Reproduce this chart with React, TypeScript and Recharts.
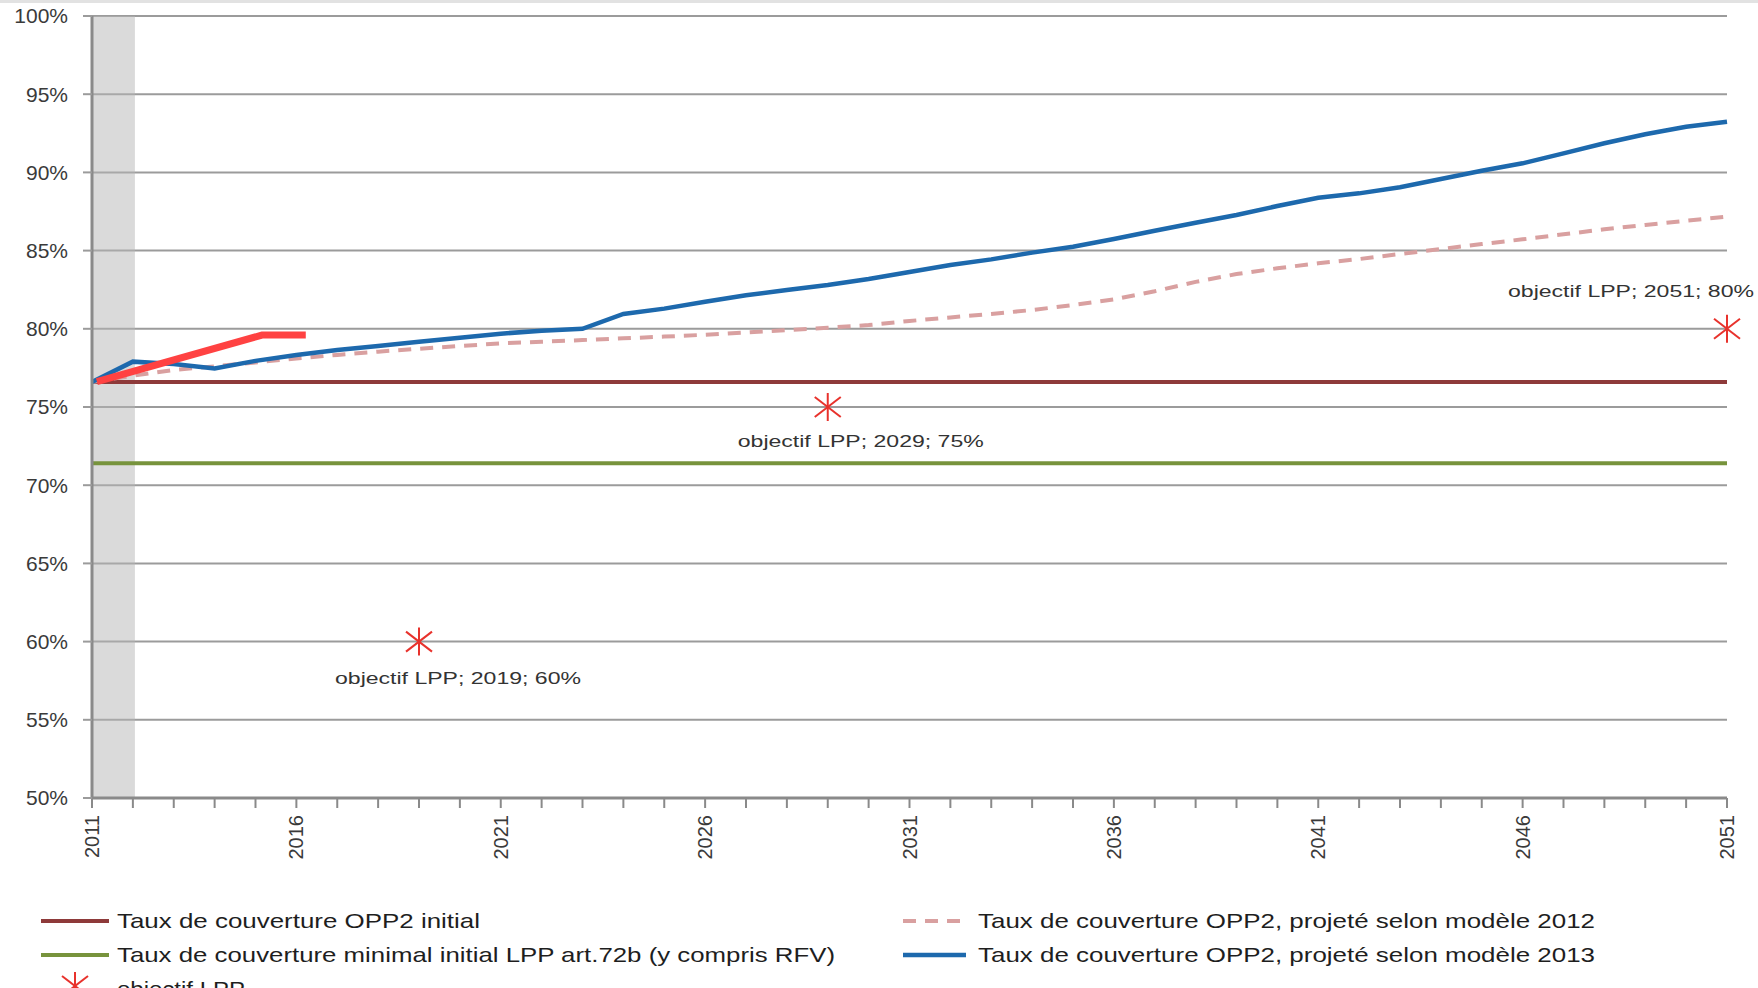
import React from 'react';
import { ComposedChart, Line, Scatter, XAxis, YAxis, CartesianGrid, ReferenceArea } from 'recharts';

const years = [2011, 2012, 2013, 2014, 2015, 2016, 2017, 2018, 2019, 2020, 2021, 2022, 2023, 2024, 2025, 2026, 2027, 2028, 2029, 2030, 2031, 2032, 2033, 2034, 2035, 2036, 2037, 2038, 2039, 2040, 2041, 2042, 2043, 2044, 2045, 2046, 2047, 2048, 2049, 2050, 2051];

const proj2013 = [76.6, 77.9, 77.75, 77.47, 77.95, 78.32, 78.64, 78.9, 79.17, 79.43, 79.69, 79.88, 80.0, 80.95, 81.29, 81.73, 82.14, 82.48, 82.8, 83.18, 83.63, 84.08, 84.44, 84.87, 85.25, 85.74, 86.27, 86.78, 87.28, 87.85, 88.38, 88.66, 89.05, 89.58, 90.11, 90.58, 91.22, 91.86, 92.44, 92.92, 93.24];

const proj2012 = [76.6, 77.0, 77.37, 77.6, 77.85, 78.1, 78.33, 78.54, 78.72, 78.9, 79.07, 79.17, 79.28, 79.39, 79.5, 79.62, 79.77, 79.92, 80.07, 80.24, 80.5, 80.73, 80.95, 81.2, 81.52, 81.88, 82.4, 83.0, 83.5, 83.87, 84.19, 84.46, 84.78, 85.1, 85.42, 85.72, 86.04, 86.36, 86.64, 86.91, 87.17];

const initialOPP2 = 76.6;
const minimalLPP = 71.4;

const objectifYears = [2019, 2029, 2051];
const objectifValues = [60, 75, 80];

const redMarkYears = [2011.12, 2015.16, 2016.23];
const redMarkValues = [76.62, 79.6, 79.6];

const shadedYears = [2011, 2012.05];

const yTicks = [50, 55, 60, 65, 70, 75, 80, 85, 90, 95, 100];
const xLabelYears = [2011, 2016, 2021, 2026, 2031, 2036, 2041, 2046, 2051];

const legendLabels = [
  'Taux de couverture OPP2 initial',
  'Taux de couverture minimal initial LPP art.72b (y compris RFV)',
  'objectif LPP',
  'Taux de couverture OPP2, projeté selon modèle 2012',
  'Taux de couverture OPP2, projeté selon modèle 2013',
];

const chartData = years.map((year, i) => ({
  year,
  proj2013: proj2013[i],
  proj2012: proj2012[i],
  initial: initialOPP2,
  minimal: minimalLPP,
}));

const objectifData = objectifYears.map((year, i) => ({ year, value: objectifValues[i] }));
const redMarkData = redMarkYears.map((year, i) => ({ year, mark: redMarkValues[i] }));

const FONT = '"Liberation Sans", Arial, sans-serif';
const C_BROWN = '#8e3a3a';
const C_GREEN = '#77933c';
const C_PINK = '#d9a0a0';
const C_BLUE = '#1d69ad';
const C_STAR = '#e8322c';
const C_RED = '#ff4242';

// label placement relative to the marker (style, not data)
const labelOffsets: Record<number, { dx: number; dy: number }> = {
  2019: { dx: 39, dy: 37 },
  2029: { dx: 33, dy: 34 },
  2051: { dx: -96, dy: -37 },
};

const starLines = (cx: number, cy: number, color: string, key?: string) => (
  <g key={key}>
    <line x1={cx} y1={cy - 14} x2={cx} y2={cy + 14} stroke={color} strokeWidth={2} />
    <line x1={cx - 13} y1={cy - 10} x2={cx + 13} y2={cy + 10} stroke={color} strokeWidth={2} />
    <line x1={cx - 13} y1={cy + 10} x2={cx + 13} y2={cy - 10} stroke={color} strokeWidth={2} />
  </g>
);

const StarShape = (props: any) => {
  const { cx, cy, payload } = props;
  if (cx == null || cy == null) return <g />;
  const off = labelOffsets[payload.year] || { dx: 0, dy: 30 };
  return (
    <g>
      {starLines(cx, cy, C_STAR)}
      <text
        x={cx + off.dx}
        y={cy + off.dy}
        textAnchor="middle"
        dominantBaseline="central"
        fontSize={16}
        fontFamily={FONT}
        fill="#333"
        textLength={246}
        lengthAdjust="spacingAndGlyphs"
      >
        {`objectif LPP; ${payload.year}; ${payload.value}%`}
      </text>
    </g>
  );
};

const XTick = (props: any) => {
  const { x, y, payload } = props;
  if (!xLabelYears.includes(payload.value)) return <g />;
  return (
    <text
      x={x}
      y={y}
      transform={`rotate(-90 ${x} ${y})`}
      textAnchor="end"
      dominantBaseline="central"
      fontSize={20}
      fontFamily={FONT}
      fill="#3a3a3a"
    >
      {payload.value}
    </text>
  );
};

const Legend = () => {
  const textProps = {
    fontSize: 21,
    fontFamily: FONT,
    fill: '#1e1e1e',
    lengthAdjust: 'spacingAndGlyphs' as const,
  };
  return (
    <svg width={1758} height={988} style={{ position: 'absolute', left: 0, top: 0, pointerEvents: 'none' }}>
      <line x1={41} y1={921} x2={109} y2={921} stroke={C_BROWN} strokeWidth={4} />
      <text x={117} y={928} textLength={363} {...textProps}>{legendLabels[0]}</text>
      <line x1={41} y1={955} x2={109} y2={955} stroke={C_GREEN} strokeWidth={4} />
      <text x={117} y={962} textLength={718} {...textProps}>{legendLabels[1]}</text>
      {starLines(75, 986, C_STAR)}
      <text x={117} y={996} textLength={128} {...textProps}>{legendLabels[2]}</text>
      <line x1={903} y1={921} x2={966} y2={921} stroke={C_PINK} strokeWidth={4} strokeDasharray="13 9" />
      <text x={978} y={928} textLength={617} {...textProps}>{legendLabels[3]}</text>
      <line x1={903} y1={955} x2={966} y2={955} stroke={C_BLUE} strokeWidth={4.5} />
      <text x={978} y={962} textLength={617} {...textProps}>{legendLabels[4]}</text>
    </svg>
  );
};

export default function App() {
  return (
    <div style={{ position: 'absolute', left: 0, top: 0, width: 1758, height: 988, background: '#fff', overflow: 'hidden', fontFamily: FONT }}>
      <div style={{ position: 'absolute', left: 0, top: 0, width: 1758, height: 3, background: '#e2e2e2' }} />
      <ComposedChart
        width={1758}
        height={988}
        data={chartData}
        margin={{ top: 16, right: 31, bottom: 130, left: 0 }}
      >
        <ReferenceArea
          x1={shadedYears[0]}
          x2={shadedYears[1]}
          y1={50}
          y2={100}
          fill="#b5b5b5"
          fillOpacity={0.5}
          stroke="none"
          ifOverflow="visible"
        />
        <CartesianGrid vertical={false} stroke="#9b9b9b" strokeWidth={2} />
        <XAxis
          dataKey="year"
          type="number"
          domain={[2011, 2051]}
          ticks={years}
          interval={0}
          height={60}
          tickSize={10}
          tickMargin={7}
          tick={<XTick />}
          axisLine={{ stroke: '#8a8a8a', strokeWidth: 3 }}
          tickLine={{ stroke: '#8a8a8a', strokeWidth: 2 }}
          allowDecimals
        />
        <YAxis
          type="number"
          domain={[50, 100]}
          ticks={yTicks}
          width={92}
          tickSize={9}
          tickMargin={15}
          tickFormatter={(v: number) => `${v}%`}
          tick={{ fontSize: 21, fill: '#3a3a3a', fontFamily: FONT }}
          axisLine={{ stroke: '#8a8a8a', strokeWidth: 3 }}
          tickLine={{ stroke: '#9b9b9b', strokeWidth: 2 }}
        />
        <Line dataKey="initial" type="linear" stroke={C_BROWN} strokeWidth={4} dot={false} activeDot={false} isAnimationActive={false} />
        <Line dataKey="minimal" type="linear" stroke={C_GREEN} strokeWidth={4} dot={false} activeDot={false} isAnimationActive={false} />
        <Line dataKey="proj2012" type="linear" stroke={C_PINK} strokeWidth={4} strokeDasharray="13 9" dot={false} activeDot={false} isAnimationActive={false} />
        <Line dataKey="proj2013" type="linear" stroke={C_BLUE} strokeWidth={4.5} dot={false} activeDot={false} isAnimationActive={false} />
        <Line data={redMarkData} dataKey="mark" type="linear" stroke={C_RED} strokeWidth={7} strokeLinejoin="miter" dot={false} activeDot={false} isAnimationActive={false} />
        <Scatter data={objectifData} dataKey="value" shape={<StarShape />} isAnimationActive={false} />
      </ComposedChart>
      <Legend />
    </div>
  );
}
